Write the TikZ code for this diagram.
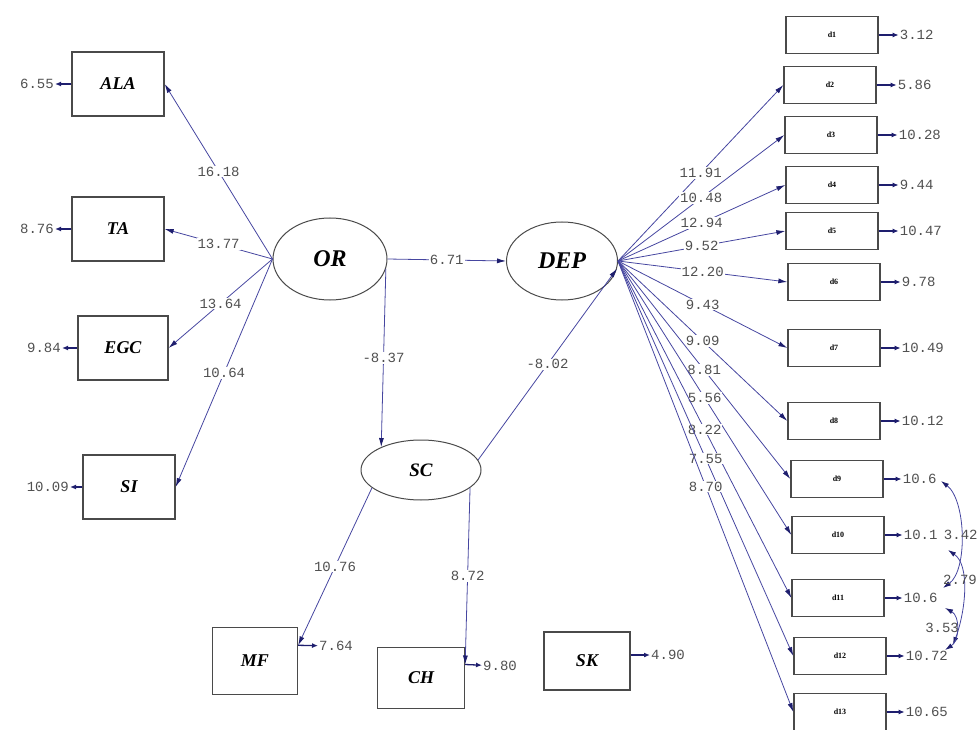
\documentclass[tikz,border=0pt]{standalone}
\usepackage{fontspec}
\setmainfont{Liberation Serif}
\setmonofont{Liberation Mono}
\usetikzlibrary{arrows.meta,shapes.geometric,calc}
\definecolor{pathblue}{HTML}{4646A0}
\definecolor{headblue}{HTML}{1E1E6E}
\definecolor{numgray}{HTML}{505050}
\definecolor{boxgray}{HTML}{4A4A4A}
\tikzset{
 obsbox/.style={draw=boxgray,line width=1.3pt,rectangle,minimum width=92pt,minimum height=64pt,font=\fontsize{18}{18}\selectfont\bfseries\itshape,inner sep=0pt},
 itembox/.style={draw=boxgray,line width=1.3pt,rectangle,minimum width=92pt,minimum height=37pt,font=\fontsize{8}{8}\selectfont\bfseries,inner sep=0pt},
 latent/.style={draw=boxgray,line width=1pt,ellipse,inner sep=0pt,font=\fontsize{24}{24}\selectfont\bfseries\itshape},
 numtxt/.style={font=\fontsize{14}{14}\selectfont\ttfamily,text=numgray,inner sep=1pt},
 lbl/.style={numtxt,fill=white,pos=0.5},
 conn/.style={draw=pathblue,line width=0.8pt,-{Latex[length=9pt,width=5pt,color=headblue]}},
 errarr/.style={draw=headblue,line width=1.3pt,-{Latex[length=6pt,width=5pt]}},
 cov/.style={draw=pathblue,line width=0.8pt,{Latex[length=8pt,width=5pt,color=headblue]}-{Latex[length=8pt,width=5pt,color=headblue]}},
}
\begin{document}
\begin{tikzpicture}[x=1pt,y=-1pt]
\useasboundingbox (0,0) rectangle (980,730);
% left indicators
\node[obsbox] (ALA) at (118,84) {ALA};
\node[obsbox] (TA) at (118,229) {TA};
\node[obsbox,minimum width=90pt] (EGC) at (123,348) {EGC};
\node[obsbox] (SI) at (129,487) {SI};
\node[numtxt,anchor=east] (eALA) at (55,84) {6.55};
\node[numtxt,anchor=east] (eTA) at (55,229) {8.76};
\node[numtxt,anchor=east] (eEGC) at (62,348) {9.84};
\node[numtxt,anchor=east] (eSI) at (70,487) {10.09};
\draw[errarr] (ALA) -- (eALA);
\draw[errarr] (TA) -- (eTA);
\draw[errarr] (EGC) -- (eEGC);
\draw[errarr] (SI) -- (eSI);
% latent variables
\node[latent,minimum width=114pt,minimum height=82pt] (OR) at (330,259) {OR};
\node[latent,minimum width=111pt,minimum height=78pt] (DEP) at (562,261) {DEP};
\node[latent,minimum width=120pt,minimum height=60pt,font=\fontsize{19}{19}\selectfont\bfseries\itshape] (SC) at (421,470) {SC};
% bottom indicators
\node[obsbox,minimum width=85pt,minimum height=67pt] (MF) at (255,661) {MF};
\node[obsbox,minimum width=87pt,minimum height=61pt] (CH) at (421,678) {CH};
\node[obsbox,minimum width=86pt,minimum height=58pt] (SK) at (587,661) {SK};
\node[numtxt,anchor=west] (eMF) at (318,646) {7.64};
\node[numtxt,anchor=west] (eCH) at (482,666) {9.80};
\node[numtxt,anchor=west] (eSK) at (650,655) {4.90};
% right items
\node[itembox] (d1) at (832,35) {d1};
\node[itembox] (d2) at (830,85) {d2};
\node[itembox] (d3) at (831,135) {d3};
\node[itembox] (d4) at (832,185) {d4};
\node[itembox] (d5) at (832,231) {d5};
\node[itembox] (d6) at (834,282) {d6};
\node[itembox] (d7) at (834,348) {d7};
\node[itembox] (d8) at (834,421) {d8};
\node[itembox] (d9) at (837,479) {d9};
\node[itembox] (d10) at (838,535) {d10};
\node[itembox] (d11) at (838,598) {d11};
\node[itembox] (d12) at (840,656) {d12};
\node[itembox] (d13) at (840,712) {d13};
\node[numtxt,anchor=west] (e1) at ($(d1.east)+(20,0)$) {3.12};
\node[numtxt,anchor=west] (e2) at ($(d2.east)+(20,0)$) {5.86};
\node[numtxt,anchor=west] (e3) at ($(d3.east)+(20,0)$) {10.28};
\node[numtxt,anchor=west] (e4) at ($(d4.east)+(20,0)$) {9.44};
\node[numtxt,anchor=west] (e5) at ($(d5.east)+(20,0)$) {10.47};
\node[numtxt,anchor=west] (e6) at ($(d6.east)+(20,0)$) {9.78};
\node[numtxt,anchor=west] (e7) at ($(d7.east)+(20,0)$) {10.49};
\node[numtxt,anchor=west] (e8) at ($(d8.east)+(20,0)$) {10.12};
\node[numtxt,anchor=west] (e9) at ($(d9.east)+(18,0)$) {10.6};
\node[numtxt,anchor=west] (e10) at ($(d10.east)+(18,0)$) {10.1};
\node[numtxt,anchor=west] (e11) at ($(d11.east)+(18,0)$) {10.6};
\node[numtxt,anchor=west] (e12) at ($(d12.east)+(18,0)$) {10.72};
\node[numtxt,anchor=west] (e13) at ($(d13.east)+(18,0)$) {10.65};
\foreach \i in {1,...,13} {\draw[errarr] (d\i) -- (e\i);}
% loadings OR
\draw[conn] (OR.west) -- node[lbl]{16.18} (ALA.east);
\draw[conn] (OR.west) -- node[lbl]{13.77} (TA.east);
\draw[conn] (OR.west) -- node[lbl]{13.64} (EGC.east);
\draw[conn] (OR.west) -- node[lbl]{10.64} (SI.east);
% structural
\draw[conn] (OR.east) -- node[lbl]{6.71} (DEP.west);
\draw[conn] (OR.-10) -- node[lbl]{-8.37} (SC.150);
\draw[conn] (SC.10) -- node[lbl]{-8.02} (DEP.-8);
\draw[conn] (SC.200) -- node[lbl]{10.76} (MF.20);
\draw[conn] (SC.-20) -- node[lbl]{8.72} (CH.17);
\draw[errarr] (MF.20) -- (eMF);
\draw[errarr] (CH.17) -- (eCH);
\draw[errarr] (SK.east |- eSK.west) -- (eSK.west);
% loadings DEP
\draw[conn] (DEP.east) -- node[lbl]{11.91} (d2.west);
\draw[conn] (DEP.east) -- node[lbl]{10.48} (d3.west);
\draw[conn] (DEP.east) -- node[lbl]{12.94} (d4.west);
\draw[conn] (DEP.east) -- node[lbl]{9.52} (d5.west);
\draw[conn] (DEP.east) -- node[lbl]{12.20} (d6.west);
\draw[conn] (DEP.east) -- node[lbl]{9.43} (d7.west);
\draw[conn] (DEP.east) -- node[lbl]{9.09} (d8.west);
\draw[conn] (DEP.east) -- node[lbl]{8.81} (d9.west);
\draw[conn] (DEP.east) -- node[lbl]{5.56} (d10.west);
\draw[conn] (DEP.east) -- node[lbl]{8.22} (d11.west);
\draw[conn] (DEP.east) -- node[lbl]{7.55} (d12.west);
\draw[conn] (DEP.east) -- node[lbl]{8.70} (d13.west);
% error covariances
\coordinate (c9) at (941,481);
\coordinate (c10) at (948,550);
\coordinate (c11a) at (943,588);
\coordinate (c11b) at (945,608);
\coordinate (c12) at (945,650);
\coordinate (c12b) at (953,645);
\draw[cov] (c9) .. controls (966,500) and (968,570) .. node[numtxt,pos=0.5] {3.42} (c11a);
\draw[cov] (c10) .. controls (970,565) and (966,610) .. node[numtxt,pos=0.4,xshift=-3pt] {2.79} (c12b);
\draw[cov] (c11b) .. controls (960,616) and (960,640) .. node[numtxt,pos=0.5,left=-4pt] {3.53} (c12);
\end{tikzpicture}
\end{document}
